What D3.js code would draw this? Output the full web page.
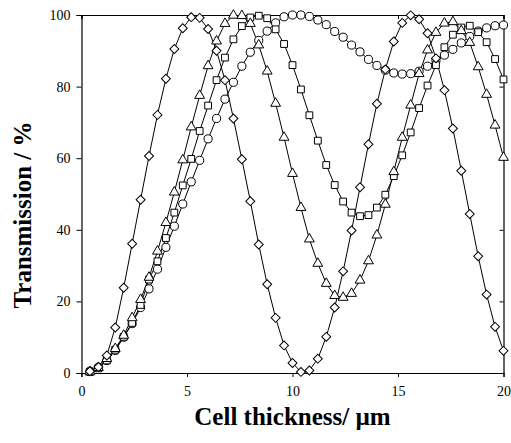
<!DOCTYPE html>
<html>
<head>
<meta charset="utf-8">
<script src="https://cdn.jsdelivr.net/npm/d3@7"></script>
<style>
  body { margin: 0; background: #fff; }
  svg { display: block; font-family: "Liberation Serif", "Times New Roman", serif; }
  .axis text { font-family: "Liberation Serif", "Times New Roman", serif; font-size: 14px; fill: #000; }
</style>
</head>
<body>
<div id="chart"></div>
<script>
// Cell thickness (µm) at which each transmission value was measured
const thickness = [0.4, 0.8, 1.2, 1.6, 2.0, 2.4, 2.8, 3.2, 3.6, 4.0,
                   4.4, 4.8, 5.2, 5.6, 6.0, 6.4, 6.8, 7.2, 7.6, 8.0,
                   8.4, 8.8, 9.2, 9.6, 10.0, 10.4, 10.8, 11.2, 11.6, 12.0,
                   12.4, 12.8, 13.2, 13.6, 14.0, 14.4, 14.8, 15.2, 15.6, 16.0,
                   16.4, 16.8, 17.2, 17.6, 18.0, 18.4, 18.8, 19.2, 19.6, 20.0];

// Transmission (%) for each series
const diamonds = [0.5, 1.7, 4.9, 12.7, 23.8, 36.1, 48.4, 60.6, 72.1, 82.2,
                  90.5, 96.3, 99.4, 99.2, 96.1, 90.0, 81.8, 71.1, 59.7, 48.0,
                  35.9, 24.8, 15.4, 7.7, 2.8, 0.3, 0.7, 4.0, 10.1, 18.3,
                  28.4, 39.8, 51.9, 63.9, 75.2, 84.8, 92.6, 97.8, 99.9, 98.8,
                  94.9, 87.9, 79.0, 68.3, 56.5, 44.4, 32.6, 21.9, 12.9, 6.2];

const triangles = [0.3, 1.5, 4.0, 6.8, 10.5, 15.4, 20.5, 26.7, 34.0, 42.0,
                   50.5, 59.5, 68.7, 77.5, 85.8, 92.7, 97.6, 99.9, 99.8, 97.6,
                   91.6, 84.3, 75.3, 65.8, 55.7, 46.2, 37.4, 30.6, 25.0, 21.6,
                   21.1, 22.2, 25.9, 31.3, 38.5, 47.1, 56.2, 65.8, 74.8, 83.6,
                   90.2, 95.1, 97.7, 98.1, 95.6, 92.3, 85.5, 77.8, 69.2, 60.2];

const squares = [0.3, 1.3, 3.5, 6.5, 10.1, 14.0, 19.0, 26.1, 31.2, 37.7,
                 44.8, 52.4, 59.8, 67.6, 74.7, 81.8, 88.1, 93.2, 96.9, 99.3,
                 99.8, 99.1, 96.0, 91.9, 86.0, 79.2, 72.0, 64.9, 58.1, 52.5,
                 47.9, 44.8, 43.8, 44.1, 46.2, 49.8, 55.0, 60.8, 67.2, 74.0,
                 80.3, 86.0, 91.0, 94.5, 96.5, 97.0, 95.2, 92.4, 87.7, 82.0];

const circles = [0.5, 1.6, 3.5, 6.3, 10.0, 13.8, 18.3, 23.5, 29.0, 35.1,
                 41.0, 47.2, 53.4, 59.4, 65.4, 71.1, 76.5, 81.2, 85.7, 89.6,
                 92.9, 95.5, 97.8, 99.5, 100.0, 100.0, 99.6, 98.6, 97.3, 95.4,
                 93.8, 91.6, 89.7, 87.6, 85.9, 84.6, 83.8, 83.5, 83.6, 84.3,
                 85.7, 87.3, 88.8, 90.4, 92.2, 94.0, 95.5, 96.4, 97.0, 97.2];

const xTicks = [0, 5, 10, 15, 20];
const yTicks = [0, 20, 40, 60, 80, 100];

// diamonds are squares turned by 45 degrees
const series = [
  {values: circles, symbol: d3.symbolCircle, size: 52, rot: 0},
  {values: squares, symbol: d3.symbolSquare, size: 46, rot: 0},
  {values: triangles, symbol: d3.symbolTriangle, size: 42, rot: 0},
  {values: diamonds, symbol: d3.symbolSquare, size: 40, rot: 45}
];

const width = 511, height = 443;
const margin = {top: 15, right: 7.5, bottom: 70, left: 81.5};
const w = width - margin.left - margin.right,
      h = height - margin.top - margin.bottom;

const svg = d3.select("#chart").append("svg")
  .attr("width", width)
  .attr("height", height);

const g = svg.append("g")
  .attr("transform", `translate(${margin.left},${margin.top})`);

const x = d3.scaleLinear().domain([0, 20]).range([0, w]);
const y = d3.scaleLinear().domain([0, 100]).range([h, 0]);

// Axes: left/bottom ticks outward, top/right mirrored ticks inward
g.append("g")
  .attr("class", "axis")
  .attr("transform", `translate(0,${h})`)
  .call(d3.axisBottom(x).tickValues(xTicks).tickSize(4).tickPadding(9));
g.append("g")
  .attr("class", "axis")
  .call(d3.axisLeft(y).tickValues(yTicks).tickSize(5).tickPadding(6));
g.append("g")
  .call(d3.axisTop(x).tickValues(xTicks).tickSize(-4).tickFormat(""));
g.append("g")
  .attr("transform", `translate(${w},0)`)
  .call(d3.axisRight(y).tickValues(yTicks).tickSize(-4).tickFormat(""));

g.selectAll(".domain").attr("stroke", "#000").attr("stroke-width", 1.2);
g.selectAll(".tick line").attr("stroke", "#000");

// Lines and open markers
const line = d3.line()
  .x((d, i) => x(thickness[i]))
  .y(d => y(d));

series.forEach(s => {
  g.append("path")
    .datum(s.values)
    .attr("fill", "none")
    .attr("stroke", "#000")
    .attr("stroke-width", 1)
    .attr("d", line);
});

series.forEach(s => {
  g.selectAll(null)
    .data(s.values)
    .enter()
    .append("path")
    .attr("d", d3.symbol().type(s.symbol).size(s.size))
    .attr("transform", (d, i) => `translate(${x(thickness[i])},${y(d)}) rotate(${s.rot})`)
    .attr("fill", "#fff")
    .attr("stroke", "#000")
    .attr("stroke-width", 1);
});

// Axis titles
svg.append("text")
  .attr("x", margin.left + w / 2)
  .attr("y", 425)
  .attr("text-anchor", "middle")
  .style("font-size", "25px")
  .style("font-weight", "bold")
  .text("Cell thickness/ µm");

svg.append("text")
  .attr("transform", `translate(31,215) rotate(-90)`)
  .attr("text-anchor", "middle")
  .style("font-size", "25px")
  .style("font-weight", "bold")
  .text("Transmission / %");
</script>
</body>
</html>
